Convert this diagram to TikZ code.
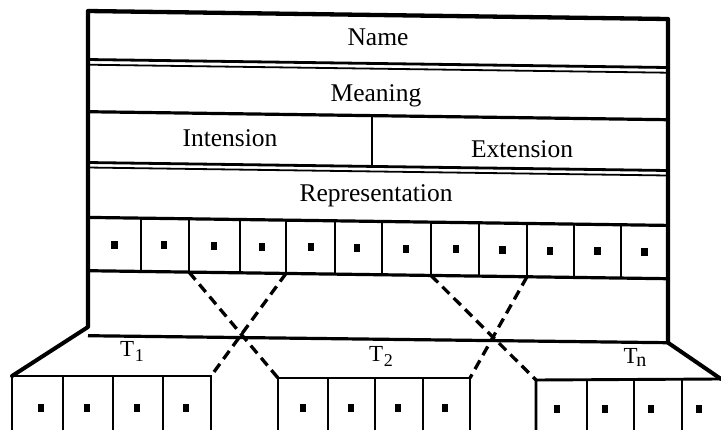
\documentclass[tikz,border=0pt]{standalone}
\usepackage{fontspec}
\setmainfont{Liberation Serif}
\begin{document}
\begin{tikzpicture}[x=1pt,y=-1pt,
  frameline/.style={line width=4.3pt, line join=round},
  sepline/.style={line width=3.2pt},
  dblthick/.style={line width=2.8pt},
  dblthin/.style={line width=1.8pt},
  cellline/.style={line width=2.8pt},
  boxline/.style={line width=2.9pt},
  roofline/.style={line width=4pt, line cap=round},
  link/.style={line width=3.3pt, dash pattern=on 10pt off 6pt},
  dot/.style={fill=black, draw=none, minimum width=6.5pt, minimum height=8pt, inner sep=0pt},
  txt/.style={font=\fontsize{25.5}{26}\selectfont, anchor=base, inner sep=0pt},
  tlab/.style={font=\fontsize{23}{24}\selectfont, anchor=base, inner sep=0pt},
]
\useasboundingbox (0,0) rectangle (721,430);
\clip (0,0) rectangle (721,430);

% ---- the frame for a concept, slightly slanted as on the printed sheet
\begin{scope}[yslant=-0.0138]
  \coordinate (ftl) at (88,9.8);
  \coordinate (ftr) at (668,9.8);
  \coordinate (fbl) at (88,325.8);
  \coordinate (fbr) at (668,333.5);
  \coordinate (bl)  at (88,334.5);
  \draw[frameline] (fbl) -- (ftl) -- (ftr) -- (fbr);
  \draw[sepline] (bl) -- (fbr);

  % double rule below Name
  \draw[dblthick] (88,58.3) -- (668,58.3);
  \draw[dblthin] (88,63.5) -- (668,63.5);
  % rule below Meaning
  \draw[sepline] (88,110.5) -- (668,110.5);
  % Intension | Extension split
  \draw[cellline] (372,110.5) -- (372,161.3);
  % double rule below Intension / Extension
  \draw[dblthick] (88,161.3) -- (668,161.3);
  \draw[dblthin] (88,166.3) -- (668,166.3);

  % row of representation cells
  \draw[sepline] (88,216.2) -- (668,216.2);
  \draw[sepline] (88,269.5) -- (668,269.5);
  \foreach \x [count=\i] in {141,189,240,286,335,382,431,479,527,574,621}
    \draw[cellline] (\x,216.2) -- (\x,269.5) coordinate (cb\i);
  \foreach \x [count=\i] in {114.5,164,214,262,311,357,406,456,502.5,550,597.5,644.5}
    \node[dot] (d\i) at (\x,243) {};

  \node[txt] (name) at (378,40.5) {Name};
  \node[txt] (meaning) at (376,96) {Meaning};
  \node[txt] (intension) at (230,143.5) {Intension};
  \node[txt] (extension) at (522,150.5) {Extension};
  \node[txt] (repr) at (376,196.5) {Representation};
\end{scope}

% ---- the component boxes below
\coordinate (t1tl) at (12,376);
\coordinate (t1tr) at (211,376);
\coordinate (t2tl) at (278,378);
\coordinate (t2tr) at (470,378);
\coordinate (tntl) at (536,380);
\coordinate (tntr) at (721,379);

\draw[boxline] (12,440) -- (t1tl) -- (t1tr) -- (211,440);
\foreach \x in {63,113,163} \draw[boxline] (\x,376) -- (\x,440);
\draw[boxline] (278,440) -- (t2tl) -- (t2tr) -- (470,440);
\foreach \x in {328,375,423} \draw[boxline] (\x,378) -- (\x,440);
\draw[boxline] (536,440) -- (tntl) -- (tntr);
\foreach \x in {587,634,682} \draw[boxline] (\x,380) -- (\x,440);

\foreach \x [count=\i] in {41,87,137,186} \node[dot] (ta\i) at (\x,408) {};
\foreach \x [count=\i] in {303,351,398,445} \node[dot] (tb\i) at (\x,408) {};
\foreach \x [count=\i] in {557,605,651,699} \node[dot] (tc\i) at (\x,409) {};

% roof lines from the frame to the outer boxes
\draw[roofline] (fbl) -- (t1tl);
\draw[roofline] (fbr) -- (tntr);

% crossing links from the cells to the boxes
\draw[link] (cb2) -- (t2tl);
\draw[link] (cb4) -- (t1tr);
\draw[link] (cb7) -- (tntl);
\draw[link] (cb9) -- (t2tr);

\node[tlab] (lab1) at (132,357) {T\kern0.5pt\raisebox{-5pt}{\fontsize{18}{18}\selectfont 1}};
\node[tlab] (lab2) at (381,362) {T\kern0.5pt\raisebox{-5pt}{\fontsize{18}{18}\selectfont 2}};
\node[tlab] (lab3) at (635,364) {T\kern-1.5pt\raisebox{-3pt}{\fontsize{20}{20}\selectfont n}};
\end{tikzpicture}
\end{document}
